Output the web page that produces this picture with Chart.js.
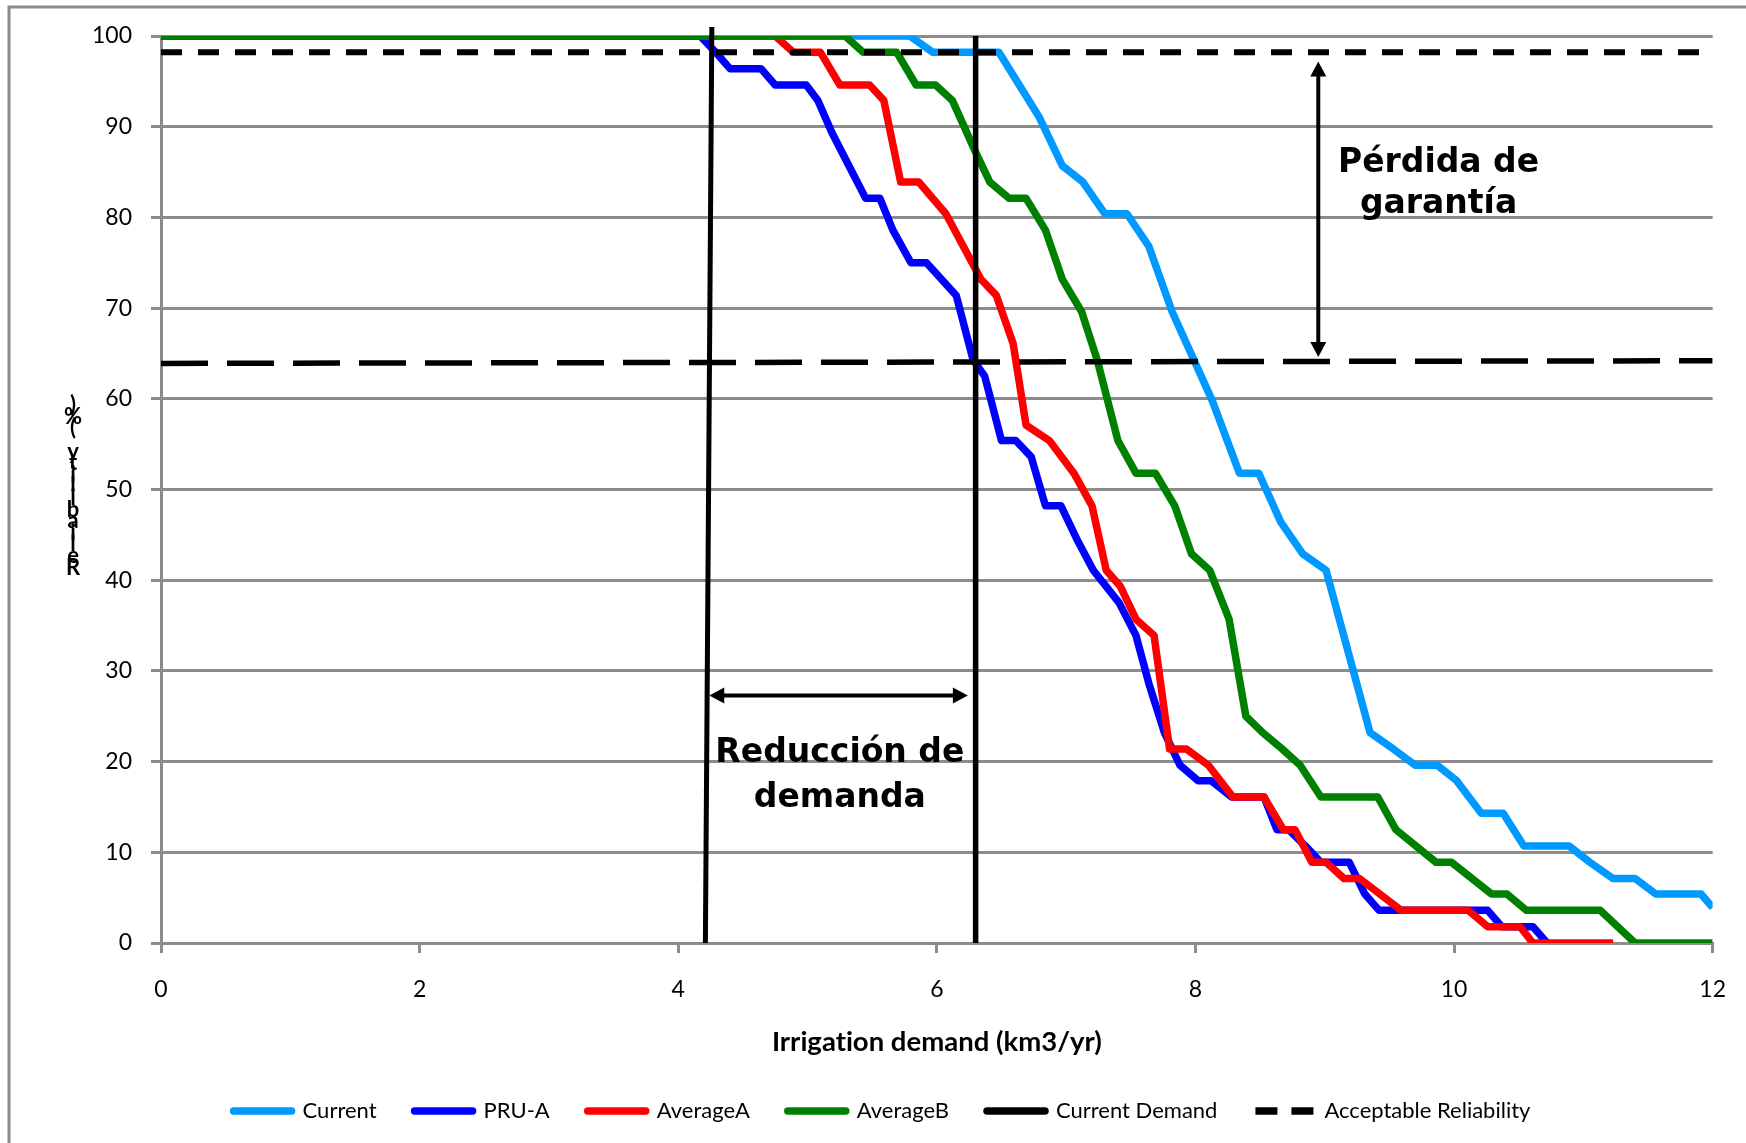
<!DOCTYPE html>
<html>
<head>
<meta charset="utf-8">
<script src="https://cdn.jsdelivr.net/npm/chart.js@4.4.1/dist/chart.umd.min.js"></script>
<style>
  html, body { margin: 0; padding: 0; background: #fff; }
  #wrap { width: 1746px; height: 1143px; }
</style>
</head>
<body>
<div id="wrap"><canvas id="chart" width="1746" height="1143"></canvas></div>
<script>
// reliability curves (x = demand km3/yr, y = reliability %)
const currentX = [0, 5.79, 5.97, 6.48, 6.79, 6.97, 7.13, 7.30, 7.47, 7.64, 7.82, 8.13, 8.34, 8.49, 8.66, 8.83, 9.01, 9.35, 9.53, 9.70, 9.87, 10.02, 10.21, 10.38, 10.54, 10.89, 11.05, 11.23, 11.40, 11.56, 11.91, 12.0]
const currentY = [100, 100, 98.2, 98.2, 91.1, 85.7, 83.9, 80.4, 80.4, 76.8, 69.6, 59.8, 51.8, 51.8, 46.4, 42.9, 41.1, 23.2, 21.4, 19.6, 19.6, 17.9, 14.3, 14.3, 10.7, 10.7, 8.9, 7.1, 7.1, 5.4, 5.4, 3.9]

const pruX = [0, 4.17, 4.29, 4.40, 4.64, 4.75, 4.99, 5.08, 5.19, 5.32, 5.45, 5.56, 5.66, 5.80, 5.92, 6.15, 6.28, 6.37, 6.50, 6.61, 6.73, 6.84, 6.96, 7.08, 7.21, 7.41, 7.54, 7.64, 7.76, 7.88, 8.02, 8.12, 8.28, 8.53, 8.63, 8.72, 8.85, 8.97, 9.19, 9.31, 9.42, 10.26, 10.37, 10.61, 10.72]
const pruY = [100, 100, 98.2, 96.4, 96.4, 94.6, 94.6, 92.9, 89.3, 85.7, 82.1, 82.1, 78.6, 75.0, 75.0, 71.4, 64.3, 62.5, 55.4, 55.4, 53.6, 48.2, 48.2, 44.6, 41.1, 37.5, 33.9, 28.6, 23.2, 19.6, 17.9, 17.9, 16.1, 16.1, 12.5, 12.5, 10.7, 8.9, 8.9, 5.4, 3.6, 3.6, 1.8, 1.8, 0]

const avgAX = [0, 4.75, 4.89, 5.10, 5.25, 5.48, 5.59, 5.72, 5.86, 6.07, 6.34, 6.46, 6.59, 6.69, 6.87, 7.06, 7.20, 7.31, 7.42, 7.54, 7.68, 7.80, 7.93, 8.10, 8.29, 8.53, 8.68, 8.77, 8.90, 9.01, 9.15, 9.27, 9.59, 10.11, 10.26, 10.51, 10.61, 11.23]
const avgAY = [100, 100, 98.2, 98.2, 94.6, 94.6, 92.9, 83.9, 83.9, 80.4, 73.2, 71.4, 66.1, 57.1, 55.4, 51.8, 48.2, 41.1, 39.3, 35.7, 33.9, 21.4, 21.4, 19.6, 16.1, 16.1, 12.5, 12.5, 8.9, 8.9, 7.1, 7.1, 3.6, 3.6, 1.8, 1.8, 0, 0]

const avgBX = [0, 5.29, 5.43, 5.69, 5.84, 5.99, 6.12, 6.29, 6.41, 6.56, 6.69, 6.84, 6.97, 7.12, 7.24, 7.40, 7.54, 7.69, 7.84, 7.97, 8.11, 8.26, 8.39, 8.52, 8.67, 8.81, 8.97, 9.41, 9.55, 9.86, 9.98, 10.29, 10.41, 10.56, 11.13, 11.40, 12.0]
const avgBY = [100, 100, 98.2, 98.2, 94.6, 94.6, 92.9, 87.5, 83.9, 82.1, 82.1, 78.6, 73.2, 69.6, 64.3, 55.4, 51.8, 51.8, 48.2, 42.9, 41.1, 35.7, 25.0, 23.2, 21.4, 19.6, 16.1, 16.1, 12.5, 8.9, 8.9, 5.4, 5.4, 3.6, 3.6, 0, 0]

// reference lines
const demandNowX = [6.30, 6.30]
const demandNowY = [0, 100.1]
const demandCutX = [4.21, 4.26]
const demandCutY = [0, 101]
const acceptX = [0, 12]
const acceptY = [98.2, 98.2]
const lossLineX = [0, 12]
const lossLineY = [63.9, 64.2]

// annotations
const reductionArrow = {x1: 4.24, x2: 6.24, y: 27.3}
const lossArrow = {x: 8.95, y1: 97.2, y2: 64.6}
const lossLabel = {x: 9.88, y: [85.0, 80.45], lines: ['Pérdida de', 'garantía']}
const reductionLabel = {x: 5.25, y: [19.96, 15.0], lines: ['Reducción de', 'demanda']}
const yTitle = 'Reliability (%)'
// zero-width non-joiner keeps Lato from using its "ti" ligature
const xTitle = 'Irrigat\u200Cion demand (km3/yr)'

const GRID = '#8c8c8c'
const pts = (xs, ys) => xs.map((x, i) => ({x: x, y: ys[i]}))

function series(label, xs, ys, color, order, extra) {
  return Object.assign({
    label: label,
    data: pts(xs, ys),
    borderColor: color,
    backgroundColor: color,
    borderWidth: 7.5,
    borderJoinStyle: 'round',
    pointRadius: 0,
    tension: 0,
    fill: false,
    order: order,
  }, extra || {})
}

const datasets = [
  series('Current', currentX, currentY, '#0099ff', 4),
  series('PRU-A', pruX, pruY, '#0000ff', 3),
  series('AverageA', avgAX, avgAY, '#ff0000', 2),
  series('AverageB', avgBX, avgBY, '#008000', 1),
  series('Current Demand', demandNowX, demandNowY, '#000', 0, {borderWidth: 5.5}),
  series('Acceptable Reliability', acceptX, acceptY, '#000', 0, {borderWidth: 6, borderDash: [21, 16]}),
  series('', demandCutX, demandCutY, '#000', 0, {borderWidth: 5, clip: false, helper: true}),
  series('', lossLineX, lossLineY, '#000', 0, {borderWidth: 5.5, borderDash: [47, 19], helper: true}),
]

function arrowHead(ctx, x, y, ang, len, half) {
  ctx.beginPath()
  ctx.moveTo(x, y)
  ctx.lineTo(x - len * Math.cos(ang) + half * Math.sin(ang), y - len * Math.sin(ang) - half * Math.cos(ang))
  ctx.lineTo(x - len * Math.cos(ang) - half * Math.sin(ang), y - len * Math.sin(ang) + half * Math.cos(ang))
  ctx.closePath()
  ctx.fill()
}

function doubleArrow(ctx, x1, y1, x2, y2) {
  const ang = Math.atan2(y2 - y1, x2 - x1)
  const len = 15
  ctx.beginPath()
  ctx.moveTo(x1 + len * 0.8 * Math.cos(ang), y1 + len * 0.8 * Math.sin(ang))
  ctx.lineTo(x2 - len * 0.8 * Math.cos(ang), y2 - len * 0.8 * Math.sin(ang))
  ctx.stroke()
  arrowHead(ctx, x2, y2, ang, len, 8)
  arrowHead(ctx, x1, y1, ang + Math.PI, len, 8)
}

const decorations = {
  id: 'decorations',
  afterLayout(chart) {
    // the original legend sits a little right of the canvas centre
    chart.legend.left += 25
    chart.legend.right += 25
  },
  beforeDraw(chart) {
    const ctx = chart.ctx
    ctx.save()
    ctx.fillStyle = '#fff'
    ctx.fillRect(0, 0, chart.width, chart.height)
    // outer frame, only left and top edges fall inside the picture
    ctx.strokeStyle = GRID
    ctx.lineWidth = 3
    ctx.beginPath()
    ctx.moveTo(9, chart.height)
    ctx.lineTo(9, 7)
    ctx.lineTo(chart.width, 7)
    ctx.stroke()
    ctx.restore()
  },
  afterDatasetsDraw(chart) {
    const ctx = chart.ctx
    const xs = chart.scales.x
    const ys = chart.scales.y
    ctx.save()
    ctx.strokeStyle = '#000'
    ctx.fillStyle = '#000'
    ctx.lineWidth = 4
    doubleArrow(ctx, xs.getPixelForValue(reductionArrow.x1), ys.getPixelForValue(reductionArrow.y),
      xs.getPixelForValue(reductionArrow.x2), ys.getPixelForValue(reductionArrow.y))
    doubleArrow(ctx, xs.getPixelForValue(lossArrow.x), ys.getPixelForValue(lossArrow.y1),
      xs.getPixelForValue(lossArrow.x), ys.getPixelForValue(lossArrow.y2))

    ctx.font = 'bold 33px "DejaVu Sans"'
    ctx.textAlign = 'center'
    ctx.textBaseline = 'alphabetic'
    for (const lab of [lossLabel, reductionLabel]) {
      lab.lines.forEach((t, i) => ctx.fillText(t, xs.getPixelForValue(lab.x), ys.getPixelForValue(lab.y[i])))
    }

    // y title: letters stacked upright, bottom to top
    const area = chart.chartArea
    const mid = (area.top + area.bottom) / 2
    ctx.font = 'bold 22px Lato'
    const chars = [...yTitle]
    chars.forEach((ch, i) => ctx.fillText(ch, area.left - 88, mid + 85 - i * 11.6))
    ctx.restore()
  },
}

new Chart(document.getElementById('chart'), {
  type: 'line',
  data: {datasets: datasets},
  options: {
    responsive: false,
    animation: false,
    events: [],
    layout: {padding: {left: 0, top: 36, right: 32, bottom: 11}},
    scales: {
      x: {
        type: 'linear',
        min: 0,
        max: 12,
        afterFit: (s) => { s.height = 119 },
        ticks: {stepSize: 2, padding: 20, color: '#000', font: {family: 'Lato', size: 23, lineHeight: 1.45}},
        grid: {drawOnChartArea: false, drawTicks: true, tickLength: 10, color: GRID, lineWidth: 3},
        border: {color: GRID, width: 3},
        title: {
          display: true,
          text: xTitle,
          color: '#000',
          font: {family: 'Lato', size: 27.5, weight: 'bold'},
          padding: {top: 0, bottom: 3},
        },
      },
      y: {
        min: 0,
        max: 100,
        afterFit: (s) => { s.width = 161 },
        ticks: {stepSize: 10, padding: 19, color: '#000', font: {family: 'Lato', size: 23}},
        grid: {color: GRID, lineWidth: 3, tickLength: 10},
        border: {color: GRID, width: 3},
      },
    },
    plugins: {
      tooltip: {enabled: false},
      legend: {
        position: 'bottom',
        labels: {
          usePointStyle: true,
          pointStyleWidth: 58,
          padding: 38,
          color: '#000',
          font: {family: 'Lato', size: 22},
          generateLabels: (chart) => chart.data.datasets
            .map((ds, i) => ({
              text: ds.label,
              datasetIndex: i,
              strokeStyle: ds.borderColor,
              fillStyle: ds.borderColor,
              lineWidth: 7.5,
              lineDash: ds.borderDash ? [22, 14] : [],
              lineCap: ds.borderDash ? 'butt' : 'round',
              pointStyle: 'line',
              hidden: false,
              fontColor: '#000',
            }))
            .filter((it) => !chart.data.datasets[it.datasetIndex].helper),
        },
      },
    },
  },
  plugins: [decorations],
})
</script>
</body>
</html>
